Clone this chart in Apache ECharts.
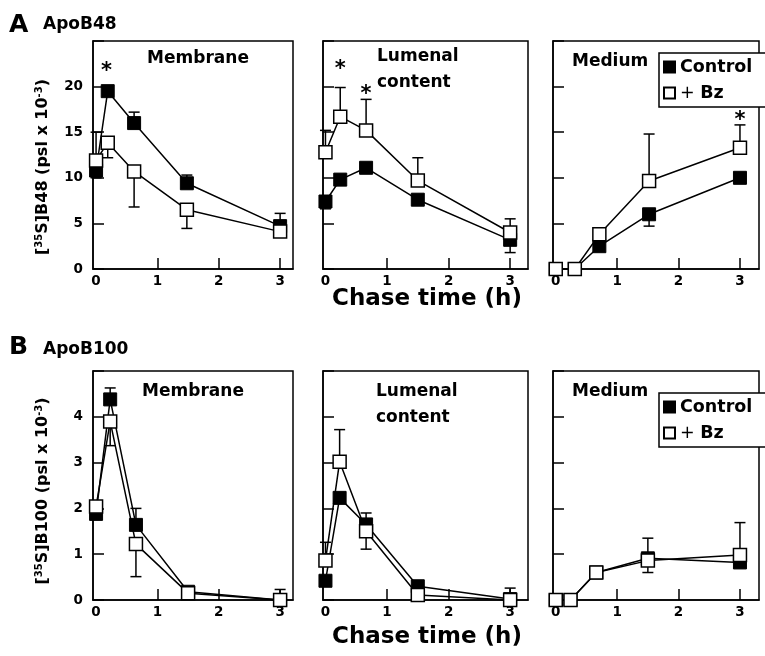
<!DOCTYPE html>
<html><head><meta charset="utf-8">
<script src="https://cdn.jsdelivr.net/npm/echarts@6/dist/echarts.min.js"></script>
<style>html,body{margin:0;padding:0;background:#fff}#c{width:765px;height:656px}</style>
</head><body><div id="c"></div>
<script>
const FONT = "'DejaVu Sans', sans-serif";

// ---------- Data (chase time in h, values in psl x 10^-3) ----------
// ApoB48 – Membrane
const b48MemTime = [0, 0.19, 0.62, 1.48, 3];
const b48MemControl = [10.8, 19.5, 16.0, 9.4, 4.7];
const b48MemBz = [11.9, 13.85, 10.7, 6.5, 4.1];
const b48MemControlErr = [10.0, null, 17.2, 10.3, 6.1];
const b48MemBzErr = [15.0, 12.2, 6.8, 4.45, null];
const b48MemStars = [[0.17, 22.1]];
// ApoB48 – Lumenal content
const b48LumTime = [0, 0.24, 0.66, 1.5, 3];
const b48LumControl = [7.4, 9.8, 11.1, 7.6, 3.2];
const b48LumBz = [12.8, 16.7, 15.2, 9.7, 4.0];
const b48LumControlErr = [6.6, null, null, null, 1.8];
const b48LumBzErr = [15.2, 19.9, 18.6, 12.2, 5.5];
const b48LumStars = [[0.24, 22.3], [0.66, 19.6]];
// ApoB48 – Medium
const b48MedTime = [0, 0.31, 0.71, 1.52, 3];
const b48MedControl = [0, 0, 2.5, 6.0, 10.0];
const b48MedBz = [0, 0, 3.8, 9.65, 13.3];
const b48MedControlErr = [null, null, null, 4.7, null];
const b48MedBzErr = [null, null, null, 14.8, 15.8];
const b48MedStars = [[3, 16.7]];
// ApoB100 – Membrane
const b100MemTime = [0, 0.23, 0.65, 1.5, 3];
const b100MemControl = [1.88, 4.38, 1.64, 0.18, 0.0];
const b100MemBz = [2.04, 3.9, 1.22, 0.15, 0.0];
const b100MemControlErr = [null, 4.63, 2.0, null, 0.23];
const b100MemBzErr = [null, 3.37, 0.51, null, null];
// ApoB100 – Lumenal content
const b100LumTime = [0, 0.23, 0.66, 1.5, 3];
const b100LumControl = [0.42, 2.23, 1.65, 0.3, 0.02];
const b100LumBz = [0.86, 3.02, 1.5, 0.11, 0.0];
const b100LumControlErr = [null, null, 1.9, null, 0.26];
const b100LumBzErr = [1.26, 3.72, 1.11, null, null];
// ApoB100 – Medium
const b100MedTime = [0, 0.24, 0.66, 1.5, 3];
const b100MedControl = [0, 0, 0.6, 0.91, 0.82];
const b100MedBz = [0, 0, 0.6, 0.86, 0.98];
const b100MedControlErr = [null, null, null, 0.6, null];
const b100MedBzErr = [null, null, null, 1.35, 1.69];

// Tick labels
const xTickLabels = [0, 1, 2, 3];
const yTicksB48 = [0, 5, 10, 15, 20];
const yTicksB100 = [0, 1, 2, 3, 4];
const seriesNames = ['Control', '+ Bz'];

// ---------- Layout ----------
const colLeft = [93, 323, 553], colWidth = [200, 205, 206];
const xMin = [-0.05, -0.04, -0.045], xMax = [3.21, 3.29, 3.31];
const rowTop = [41, 371], rowHeight = [228, 229];
const yMax = [25, 5], yInt = [5, 1];
const yTickLists = [yTicksB48, yTicksB100];

const panels = [
  {row:0, col:0, t:b48MemTime, c:b48MemControl, b:b48MemBz, ce:b48MemControlErr, be:b48MemBzErr, s:b48MemStars},
  {row:0, col:1, t:b48LumTime, c:b48LumControl, b:b48LumBz, ce:b48LumControlErr, be:b48LumBzErr, s:b48LumStars},
  {row:0, col:2, t:b48MedTime, c:b48MedControl, b:b48MedBz, ce:b48MedControlErr, be:b48MedBzErr, s:b48MedStars},
  {row:1, col:0, t:b100MemTime, c:b100MemControl, b:b100MemBz, ce:b100MemControlErr, be:b100MemBzErr, s:[]},
  {row:1, col:1, t:b100LumTime, c:b100LumControl, b:b100LumBz, ce:b100LumControlErr, be:b100LumBzErr, s:[]},
  {row:1, col:2, t:b100MedTime, c:b100MedControl, b:b100MedBz, ce:b100MedControlErr, be:b100MedBzErr, s:[]}
];

const LW = 1.5;
const grid = [], xAxis = [], yAxis = [], series = [];

function errRender(params, api) {
  const p0 = api.coord([api.value(0), api.value(1)]);
  const p1 = api.coord([api.value(0), api.value(2)]);
  const w = 5.5;
  return {type:'group', children:[
    {type:'line', shape:{x1:p0[0], y1:p0[1], x2:p1[0], y2:p1[1]}, style:{stroke:'#000', lineWidth:LW}},
    {type:'line', shape:{x1:p1[0]-w, y1:p1[1], x2:p1[0]+w, y2:p1[1]}, style:{stroke:'#000', lineWidth:LW}}
  ]};
}
function starRender(params, api) {
  const p = api.coord([api.value(0), api.value(1)]);
  return {type:'text', x:p[0], y:p[1]+4, style:{text:'*', fill:'#000', font:'bold 21px ' + FONT, align:'center', verticalAlign:'middle'}};
}

panels.forEach((p, i) => {
  grid.push({left:colLeft[p.col], top:rowTop[p.row], width:colWidth[p.col], height:rowHeight[p.row],
    show:true, borderColor:'#000', borderWidth:LW, backgroundColor:'transparent', containLabel:false});
  xAxis.push({gridIndex:i, type:'value', min:xMin[p.col], max:xMax[p.col],
    axisLine:{show:true, onZero:false, lineStyle:{color:'#000', width:LW}},
    axisTick:{show:true, inside:true, length:11, customValues:[1,2,3], lineStyle:{color:'#000', width:LW}},
    axisLabel:{show:true, customValues:xTickLabels, color:'#000', fontFamily:FONT, fontWeight:'bold', fontSize:13.5, margin:5},
    splitLine:{show:false}});
  const yt = yTickLists[p.row];
  yAxis.push({gridIndex:i, type:'value', min:0, max:yMax[p.row], interval:yInt[p.row],
    axisLine:{show:true, onZero:false, lineStyle:{color:'#000', width:LW}},
    axisTick:{show:true, inside:true, length:11, lineStyle:{color:'#000', width:LW}},
    axisLabel:{show:p.col === 0, color:'#000', fontFamily:FONT, fontWeight:'bold', fontSize:13.5, margin:10,
      formatter: v => yt.indexOf(v) >= 0 ? String(v) : ''},
    splitLine:{show:false}});
  const mkErr = (vals, ends) => p.t.map((x, k) => ends[k] == null ? null : [x, vals[k], ends[k]]).filter(d => d);
  series.push({type:'custom', name:'errC'+i, xAxisIndex:i, yAxisIndex:i, renderItem:errRender, data:mkErr(p.c, p.ce), z:1, silent:true, clip:false});
  series.push({type:'custom', name:'errB'+i, xAxisIndex:i, yAxisIndex:i, renderItem:errRender, data:mkErr(p.b, p.be), z:1, silent:true, clip:false});
  series.push({type:'line', name:seriesNames[0], xAxisIndex:i, yAxisIndex:i, data:p.t.map((x,k)=>[x,p.c[k]]),
    symbol:'rect', symbolSize:13, showAllSymbol:true, clip:false, z:2,
    lineStyle:{color:'#000', width:LW}, itemStyle:{color:'#000', borderColor:'#000', borderWidth:1}, emphasis:{disabled:true}});
  series.push({type:'line', name:seriesNames[1], xAxisIndex:i, yAxisIndex:i, data:p.t.map((x,k)=>[x,p.b[k]]),
    symbol:'rect', symbolSize:13, showAllSymbol:true, clip:false, z:3,
    lineStyle:{color:'#000', width:LW}, itemStyle:{color:'#fff', borderColor:'#000', borderWidth:LW}, emphasis:{disabled:true}});
  if (p.s.length) series.push({type:'custom', name:'star'+i, xAxisIndex:i, yAxisIndex:i, renderItem:starRender, data:p.s, z:4, silent:true, clip:false});
});

const legendBase = {orient:'vertical', left:659, itemWidth:11, itemHeight:11, itemGap:6,
  padding:[4, 60, 4, 4], borderColor:'#000', borderWidth:LW, backgroundColor:'#fff', borderRadius:0,
  icon:'rect', data:seriesNames, selectedMode:false,
  textStyle:{color:'#000', fontFamily:FONT, fontWeight:'bold', fontSize:17.5, lineHeight:20,
    rich:{p:{fontFamily:FONT, fontWeight:'normal', fontSize:17.5, color:'#000', lineHeight:20},
          b:{fontFamily:FONT, fontWeight:'bold', fontSize:17.5, color:'#000', lineHeight:20}}},
  formatter: n => n === '+ Bz' ? '{p|+ }{b|Bz}' : n};

const T = (text, x, y, size, align, extra) => Object.assign({type:'text', x, y,
  style:{text, fill:'#000', font:'bold ' + size + 'px ' + FONT, align:align || 'left', verticalAlign:'middle'}}, extra || {});

const yTitle = (mid, x, y) => ({type:'text', x, y, rotation:Math.PI/2,
  style:{text:'{n|[}{s|35}{n|S]' + mid + ' (psl x 10}{s|-3}{n|)}', align:'center', verticalAlign:'middle', fill:'#000',
    rich:{n:{fontFamily:FONT, fontWeight:'bold', fontSize:16, fill:'#000', lineHeight:18},
          s:{fontFamily:FONT, fontWeight:'bold', fontSize:10, fill:'#000', lineHeight:18, verticalAlign:'top'}}}});

const graphic = [
  T('A', 9, 25, 25), T('ApoB48', 43, 24.5, 17),
  T('B', 9, 347, 25), T('ApoB100', 43, 350, 17),
  T('Membrane', 198, 59, 17, 'center'),
  T('Lumenal', 377, 57, 17), T('content', 377, 83, 17),
  T('Medium', 572, 61.5, 17),
  T('Membrane', 193, 391.5, 17, 'center'),
  T('Lumenal', 376, 391.5, 17), T('content', 376, 417.5, 17),
  T('Medium', 572, 391.5, 17),
  T('Chase time (h)', 427, 299, 23, 'center'),
  T('Chase time (h)', 427, 637, 23, 'center'),
  yTitle('B48', 43, 167),
  yTitle('B100', 43, 491)
];

const chart = echarts.init(document.getElementById('c'), null, {renderer:'canvas'});
chart.setOption({
  animation:false,
  backgroundColor:'#fff',
  textStyle:{fontFamily:FONT},
  grid, xAxis, yAxis, series,
  legend:[Object.assign({top:53}, legendBase), Object.assign({top:393}, legendBase)],
  graphic
});
</script></body></html>
